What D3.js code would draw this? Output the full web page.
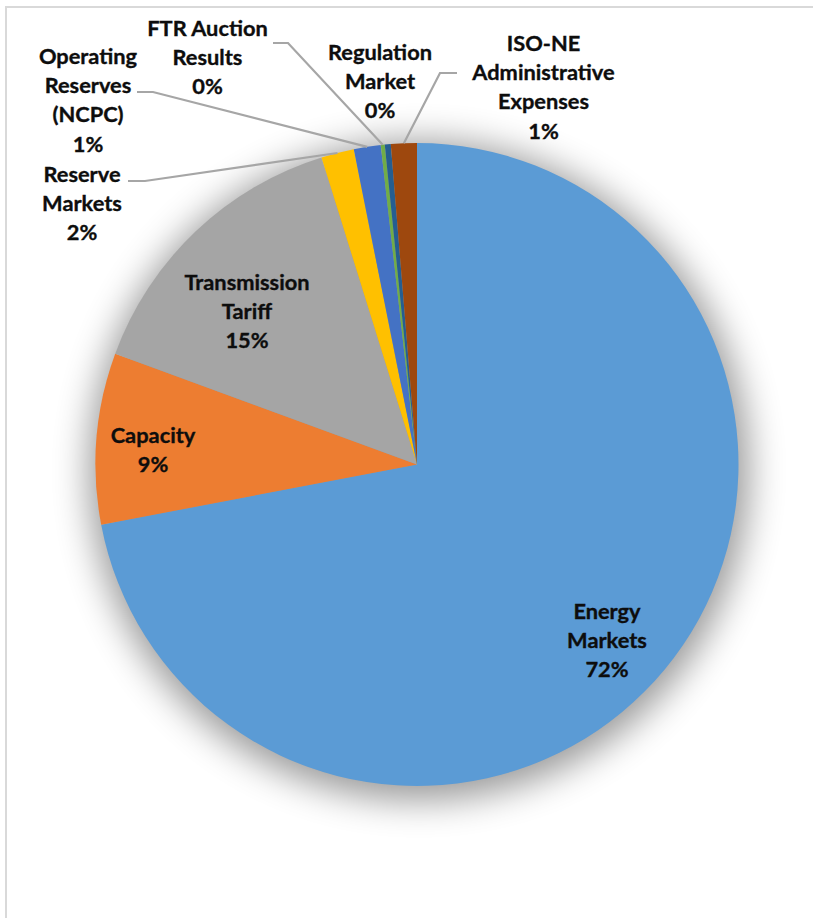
<!DOCTYPE html>
<html>
<head>
<meta charset="utf-8">
<script src="https://cdn.jsdelivr.net/npm/d3@7"></script>
<style>
  html, body { margin: 0; padding: 0; background: #fff; }
  svg { display: block; }
  text { font-family: Lato, "Open Sans", sans-serif; font-weight: 700; fill: #0D0D0D; stroke: #0D0D0D; stroke-width: 0.35px; }
</style>
</head>
<body>
<svg id="chart" width="813" height="918"></svg>
<script>
// Wholesale cost components (share of total, %)
const categories = [
  "Energy Markets",
  "Capacity",
  "Transmission Tariff",
  "Reserve Markets",
  "Operating Reserves (NCPC)",
  "FTR Auction Results",
  "Regulation Market",
  "ISO-NE Administrative Expenses"
];
const values = [72.0, 8.6, 14.6, 1.65, 1.35, 0.2, 0.3, 1.3];
const colors = ["#5B9BD5", "#ED7D31", "#A5A5A5", "#FFC000", "#4472C4", "#70AD47", "#255E91", "#9E480E"];

// How each category name wraps inside its data label
const labelLines = [
  ["Energy", "Markets"],
  ["Capacity"],
  ["Transmission", "Tariff"],
  ["Reserve", "Markets"],
  ["Operating", "Reserves", "(NCPC)"],
  ["FTR Auction", "Results"],
  ["Regulation", "Market"],
  ["ISO-NE", "Administrative", "Expenses"]
];

// Label placement: centre x, first baseline y; outside labels get a leader (elbow, end)
const layout = {
  cx: 417, cy: 464.5, r: 321.5, lineHeight: 29.2, fontSize: 21.8,
  labels: [
    { x: 607, y: 619 },
    { x: 153, y: 443 },
    { x: 247, y: 290 },
    { x: 82, y: 182, elbow: [145, 181], end: [128, 181] },
    { x: 88, y: 64, elbow: [153, 92], end: [137, 92] },
    { x: 207.5, y: 36, elbow: [288, 43], end: [273, 43] },
    { x: 380, y: 60 },
    { x: 543.5, y: 51, elbow: [440, 73], end: [457, 73] }
  ]
};

const svg = d3.select("#chart");

// Chart area frame
svg.append("rect")
  .attr("x", 6).attr("y", 7)
  .attr("width", 900).attr("height", 1000)
  .attr("fill", "#fff")
  .attr("stroke", "#D9D9D9")
  .attr("stroke-width", 2);

// Soft outer shadow under the pie
const defs = svg.append("defs");
defs.append("filter").attr("id", "pieShadow")
  .attr("x", "-30%").attr("y", "-30%").attr("width", "160%").attr("height", "160%")
  .append("feGaussianBlur").attr("stdDeviation", 18);

const data = categories.map((c, i) => ({ category: c, value: values[i], color: colors[i], lines: labelLines[i], pos: layout.labels[i] }));
const total = d3.sum(values);
const pct = d3.format(".0%");

const pie = d3.pie().sort(null).value(d => d.value);
const arcs = pie(data);
const arc = d3.arc().innerRadius(0).outerRadius(layout.r);

const g = svg.append("g").attr("transform", `translate(${layout.cx},${layout.cy})`);

g.append("circle")
  .attr("cx", 2).attr("cy", 6)
  .attr("r", layout.r + 8)
  .attr("fill", "#000")
  .attr("opacity", 0.4)
  .attr("filter", "url(#pieShadow)");

g.selectAll("path.slice")
  .data(arcs)
  .join("path")
  .attr("class", "slice")
  .attr("d", arc)
  .attr("fill", d => d.data.color);

// Leader lines from the slice's outer edge to the label
const leaders = arcs.filter(d => d.data.pos.elbow);
svg.selectAll("polyline.leader")
  .data(leaders)
  .join("polyline")
  .attr("class", "leader")
  .attr("fill", "none")
  .attr("stroke", "#A6A6A6")
  .attr("stroke-width", 2.2)
  .attr("points", d => {
    const a = (d.startAngle + d.endAngle) / 2;
    const p0 = [layout.cx + layout.r * Math.sin(a), layout.cy - layout.r * Math.cos(a)];
    return [p0, d.data.pos.elbow, d.data.pos.end].map(p => p.join(",")).join(" ");
  });

// Data labels: name lines followed by the percentage
const labels = svg.selectAll("text.label")
  .data(arcs)
  .join("text")
  .attr("class", "label")
  .attr("text-anchor", "middle")
  .attr("font-size", layout.fontSize)
  .attr("x", d => d.data.pos.x)
  .attr("y", d => d.data.pos.y);

labels.each(function (d) {
  const t = d3.select(this);
  const lines = d.data.lines.concat([pct(d.data.value / total)]);
  lines.forEach((ln, i) => {
    t.append("tspan")
      .attr("x", d.data.pos.x)
      .attr("y", d.data.pos.y + i * layout.lineHeight)
      .text(ln);
  });
});
</script>
</body>
</html>
